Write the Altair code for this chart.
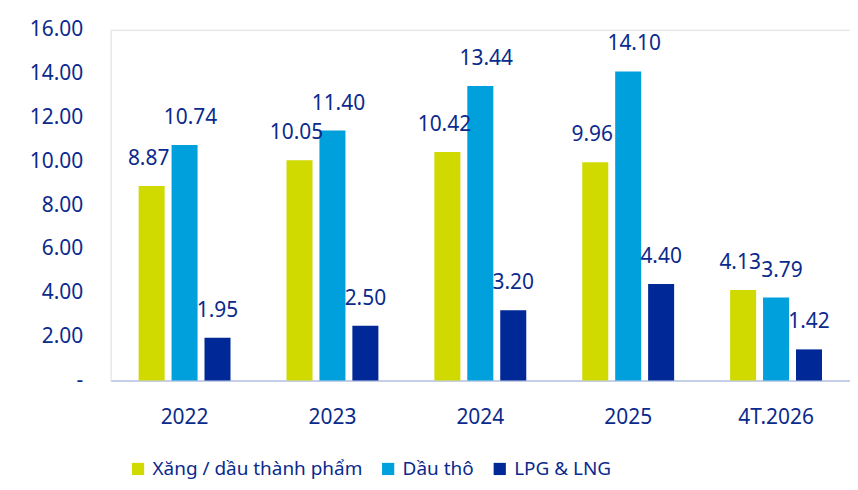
import altair as alt
import pandas as pd

years = ["2022", "2023", "2024", "2025", "4T.2026"]
series = ["Xăng / dầu thành phẩm", "Dầu thô", "LPG & LNG"]
xang = [8.87, 10.05, 10.42, 9.96, 4.13]
dau_tho = [10.74, 11.40, 13.44, 14.10, 3.79]
lpg = [1.95, 2.50, 3.20, 4.40, 1.42]
colors = ["#D0DA00", "#00A0DC", "#002896"]

rows = []
for i, y in enumerate(years):
    for s, vals in zip(series, [xang, dau_tho, lpg]):
        rows.append({"year": y, "series": s, "value": vals[i],
                     "label": f"{vals[i]:.2f}"})
df = pd.DataFrame(rows)

FONT = "Noto Sans"
TXT = "#0A2A8C"
FS = 21

x = alt.X("year:N", sort=years, title=None,
          scale=alt.Scale(paddingInner=0, paddingOuter=0),
          axis=alt.Axis(labelAngle=0, labelFontSize=FS, labelColor=TXT, labelFont=FONT,
                        ticks=False, domainColor="#C5D0E8", domainWidth=2, labelPadding=26))
xoff = alt.XOffset("series:N", sort=series,
                   scale=alt.Scale(paddingInner=0.21, paddingOuter=0.85))
y = alt.Y("value:Q", title=None,
          scale=alt.Scale(domain=[0, 16]),
          axis=alt.Axis(values=[0, 2, 4, 6, 8, 10, 12, 14, 16],
                        labelExpr="datum.value == 0 ? '-' : format(datum.value, '.2f')",
                        labelFontSize=FS, labelColor=TXT, labelFont=FONT,
                        ticks=False, domain=False, grid=False, labelPadding=28))
color = alt.Color("series:N", sort=series,
                  scale=alt.Scale(domain=series, range=colors),
                  legend=alt.Legend(orient="none", direction="horizontal", legendX=18, legendY=431,
                                    title=None, symbolType="square",
                                    symbolSize=150, labelFontSize=19, labelColor=TXT,
                                    labelFont=FONT, columnPadding=16,
                                    labelOffset=5, symbolStrokeWidth=0, labelLimit=400))

bars = alt.Chart(df).mark_bar().encode(x=x, xOffset=xoff, y=y, color=color)

layers = [bars]
for s, dxv in zip(series, [-3, 6, 0]):
    layers.append(
        alt.Chart(df).transform_filter(alt.datum.series == s)
        .mark_text(dy=-27, dx=dxv, fontSize=FS, font=FONT, color=TXT)
        .encode(x=x, xOffset=xoff, y=y, text="label:N")
    )

chart = alt.layer(*layers).properties(width=742, height=352).configure_view(stroke=None).configure(
    padding={"left": 21, "right": 0, "top": 10, "bottom": 5})
chart.save("out.html", embed_options={"renderer": "svg", "actions": False})
